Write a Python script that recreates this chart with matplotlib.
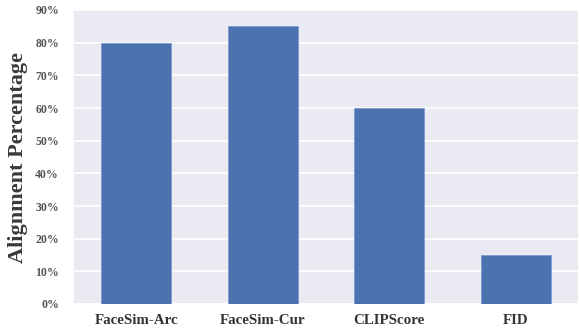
import matplotlib
matplotlib.use("Agg")
import matplotlib.pyplot as plt
import seaborn as sns
from matplotlib.ticker import PercentFormatter

metrics = ["FaceSim-Arc", "FaceSim-Cur", "CLIPScore", "FID"]
alignment = [0.80, 0.85, 0.60, 0.15]
yticks = [0.0, 0.1, 0.2, 0.3, 0.4, 0.5, 0.6, 0.7, 0.8, 0.9]

sns.set_theme(style="darkgrid")
plt.rcParams["font.family"] = ["Liberation Serif", "DejaVu Serif"]

fig = plt.figure(figsize=(5.79, 3.35), dpi=100)
ax = fig.add_axes([73 / 579, 1 - 304 / 335, 506 / 579, 294 / 335])

x = range(len(metrics))
ax.bar(x, alignment, width=0.55, color="#4c72b0", edgecolor="#7d9bd0", linewidth=0.6, zorder=3)

ax.set_xlim(-0.5, 3.5)
ax.set_ylim(0, 0.9)
ax.set_yticks(yticks)
ax.yaxis.set_major_formatter(PercentFormatter(1.0, decimals=0))
ax.set_xticks(list(x))
ax.set_xticklabels(metrics)
ax.grid(axis="x", visible=False)
ax.grid(axis="y", color="white", linewidth=1.2)

for lbl in ax.get_yticklabels():
    lbl.set_fontsize(8.5)
    lbl.set_fontweight("bold")
    lbl.set_color("#555555")
for lbl in ax.get_xticklabels():
    lbl.set_fontsize(10.8)
    lbl.set_fontweight("bold")
    lbl.set_color("#333333")
ax.tick_params(axis="y", pad=10, length=0)
ax.tick_params(axis="x", pad=7, length=0)

ax.set_ylabel("Alignment Percentage", fontsize=16, fontweight="bold", color="#3a3a3a", labelpad=5)

fig.savefig("out.png", dpi=100)
